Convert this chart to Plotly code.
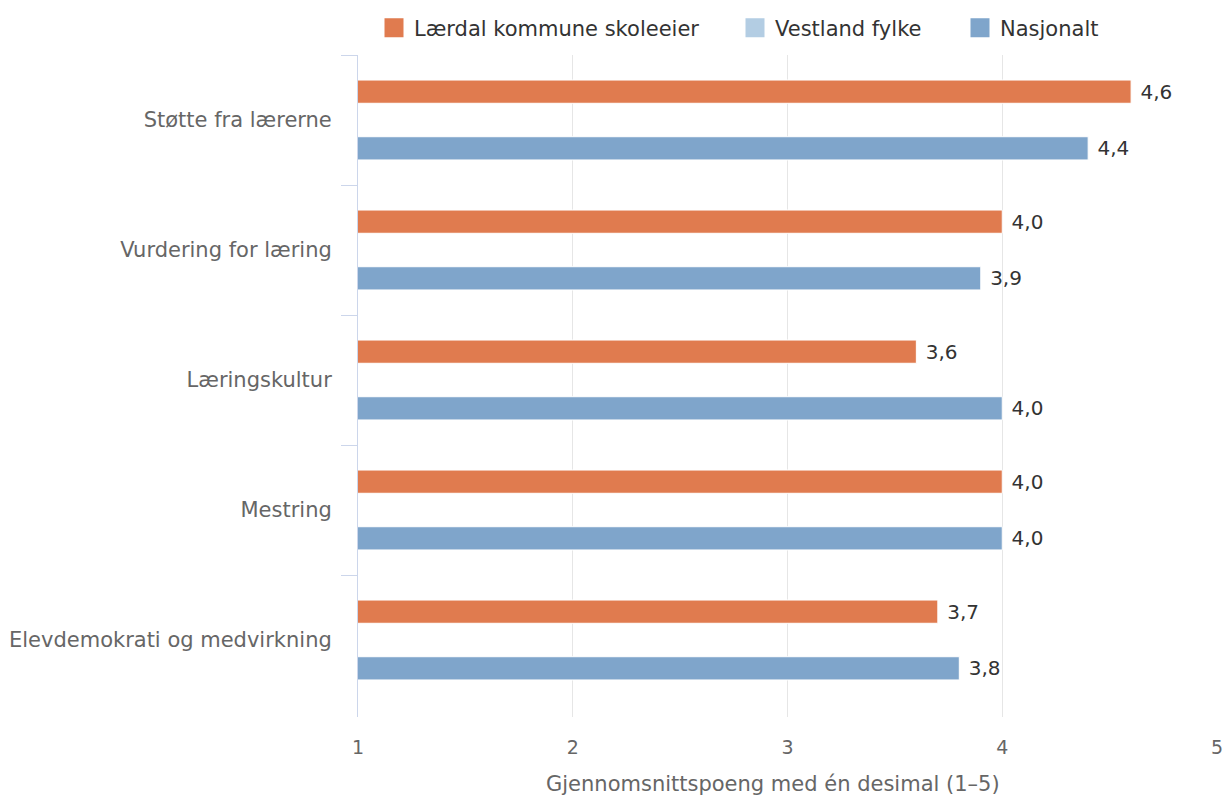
import plotly.graph_objects as go

categories = ["Støtte fra lærerne", "Vurdering for læring", "Læringskultur", "Mestring", "Elevdemokrati og medvirkning"]
laerdal = [4.6, 4.0, 3.6, 4.0, 3.7]
vestland = [None, None, None, None, None]
nasjonalt = [4.4, 3.9, 4.0, 4.0, 3.8]
x_ticks = [1, 2, 3, 4, 5]
x_title = "Gjennomsnittspoeng med én desimal (1–5)"

FONT = "DejaVu Sans"
W, H = 1226, 798
L, R, T, B = 358, 9, 55, 81
PW, PH = W - L - R, H - T - B

series = [
    ("Lærdal kommune skoleeier", laerdal, "#E07B4F", "legend", 374),
    ("Vestland fylke", vestland, "#B3CDE3", "legend2", 735),
    ("Nasjonalt", nasjonalt, "#7FA5CB", "legend3", 960),
]

fig = go.Figure()
for name, vals, col, lg, _ in series:
    fig.add_trace(go.Bar(
        y=categories, x=vals, name=name, orientation="h", showlegend=False,
        marker=dict(color=col, line=dict(color="#ffffff", width=1)),
        texttemplate="\u00a0%{x:.1f}", textposition="outside",
        constraintext="none",
        textfont=dict(family=FONT, size=20, color="#333333"),
        cliponaxis=False,
    ))
# legend entries (square markers)
for name, vals, col, lg, _ in series:
    fig.add_trace(go.Scatter(
        x=[None], y=[None], mode="markers", name=name, legend=lg,
        marker=dict(symbol="square", size=20, color=col, line=dict(color=col, width=3)),
        showlegend=True,
    ))

leg_y = (H - B - 28) / PH
legend_common = dict(orientation="h", yanchor="middle", y=leg_y, xanchor="left",
                     font=dict(family=FONT, size=21, color="#333333"),
                     bgcolor="rgba(0,0,0,0)", borderwidth=0)
layout_legends = {}
for name, vals, col, lg, px in series:
    layout_legends[lg] = dict(legend_common, x=(px - L) / PW)

fig.update_layout(
    width=W, height=H,
    paper_bgcolor="white", plot_bgcolor="white",
    separators=", ",
    barmode="group", bargap=0.346, bargroupgap=0.18,
    margin=dict(l=L, r=R, t=T, b=B, autoexpand=False),
    font=dict(family=FONT, color="#666666"),
    xaxis=dict(range=[1, 5], tickvals=x_ticks, ticktext=[str(t) for t in x_ticks],
               showgrid=True, gridcolor="#e6e6e6", gridwidth=1,
               zeroline=False, showline=False,
               tickfont=dict(family=FONT, size=19, color="#666666"),
               ticks="", ticklabelstandoff=17),
    yaxis=dict(categoryorder="array", categoryarray=categories,
               range=[4.5 + 12 / 130, -0.5], showline=True, linecolor="#ccd6eb", linewidth=1,
               ticks="outside", tickson="boundaries", ticklen=16, tickcolor="#ccd6eb",
               showgrid=False, tickfont=dict(family=FONT, size=21, color="#666666"),
               ticklabelstandoff=21),
    annotations=[dict(text=x_title, xref="paper", yref="paper",
                      x=(772.5 - L) / PW, y=(H - B - 784) / PH, xanchor="center", yanchor="middle",
                      showarrow=False, font=dict(family=FONT, size=21, color="#666666"))],
    **layout_legends,
)
fig.write_html("out.html", config={"displayModeBar": False},
               post_script="document.body.style.margin='0px';document.body.style.overflow='hidden';")
